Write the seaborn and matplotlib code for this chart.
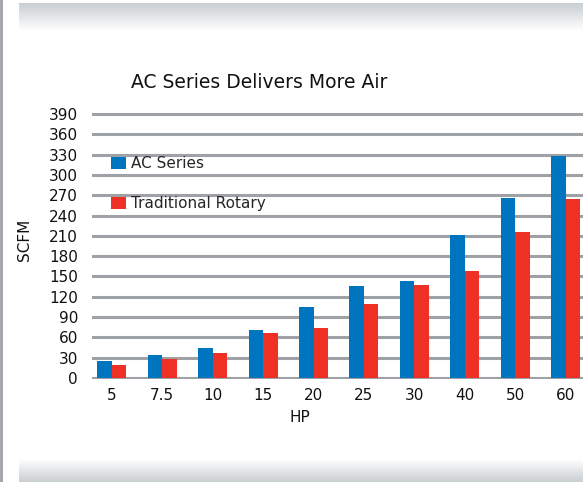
import numpy as np
import pandas as pd
import matplotlib
matplotlib.use("Agg")
import matplotlib.pyplot as plt
from matplotlib.patches import Patch, Rectangle
from matplotlib.colors import LinearSegmentedColormap
import seaborn as sns

# ---- data ----
hp_labels = ["5", "7.5", "10", "15", "20", "25", "30", "40", "50", "60"]
ac_series = [25, 34, 44, 71, 105, 136, 143, 211, 266, 328]
traditional_rotary = [19, 28, 37, 66, 74, 109, 137, 158, 216, 264]
series_names = ["AC Series", "Traditional Rotary"]
y_ticks = list(range(0, 391, 30))

df = pd.DataFrame({
    "HP": hp_labels * 2,
    "SCFM": ac_series + traditional_rotary,
    "Series": [series_names[0]] * len(hp_labels) + [series_names[1]] * len(hp_labels),
})

sns.set_theme(style="white")
plt.rcParams["font.family"] = ["DejaVu Sans"]

W, H = 583, 482
fig = plt.figure(figsize=(W / 100, H / 100), dpi=100)
fig.patch.set_facecolor("white")

# ---- background decoration ----
bg = fig.add_axes([0, 0, 1, 1], zorder=-10)
bg.axis("off")
grad_top = LinearSegmentedColormap.from_list("gt", ["#c9ced2", "#ffffff"])
g = np.linspace(0, 1, 256).reshape(-1, 1)
bg.imshow(g, cmap=grad_top, extent=[19, W, 31, 3], aspect="auto")
bg.imshow(g[::-1], cmap=grad_top, extent=[19, W, 482, 459], aspect="auto")
bg.add_patch(Rectangle((0, 0), 3, H, color="#a4a8ac", lw=0))
bg.set_xlim(0, W)
bg.set_ylim(H, 0)

# ---- chart ----
px_per_unit = 264 / 390
y_lo, y_hi = -2, 392
ax_left, ax_right = 92, 585
y0_px = 378
bottom_px = y0_px + (0 - y_lo) * px_per_unit
top_px = y0_px - (y_hi) * px_per_unit
ax = fig.add_axes([ax_left / W, 1 - bottom_px / H, (ax_right - ax_left) / W, (bottom_px - top_px) / H])
ax.set_facecolor("none")

palette = {series_names[0]: "#0075bf", series_names[1]: "#ee3124"}
sns.barplot(data=df, x="HP", y="SCFM", hue="Series", order=hp_labels,
            hue_order=series_names, palette=palette, width=0.575, gap=0,
            saturation=1, ax=ax, legend=False, linewidth=0)

ax.set_ylim(y_lo, y_hi)
ax.set_xlim(-0.39, 9.38)
ax.set_yticks(y_ticks)
ax.set_yticklabels([str(t) for t in y_ticks])
ax.yaxis.grid(True, color="#9ea2a6", linewidth=2.2)
ax.set_axisbelow(True)
for s in ax.spines.values():
    s.set_visible(False)
fs = 11
ax.tick_params(axis="y", length=0, pad=10, labelsize=fs, labelcolor="#111111")
ax.tick_params(axis="x", length=0, pad=6, labelsize=fs, labelcolor="#111111")
ax.set_xlabel("")
ax.set_ylabel("")

fig.text(259 / W, 1 - 83 / H, "AC Series Delivers More Air", ha="center", va="center",
         fontsize=13.5, color="#111111")
fig.text(25 / W, 1 - 240 / H, "SCFM", ha="center", va="center", rotation=90,
         fontsize=fs, color="#111111")
fig.text(300 / W, 1 - 418 / H, "HP", ha="center", va="center",
         fontsize=fs, color="#111111")

handles = [Patch(facecolor=palette[n], edgecolor="none") for n in series_names]
ax.legend(handles, series_names, loc="upper left", bbox_to_anchor=(111 / W, 1 - 156 / H),
          bbox_transform=fig.transFigure, frameon=False, fontsize=fs,
          borderpad=0, borderaxespad=0, handlelength=0.95, handleheight=0.8,
          handletextpad=0.35, labelspacing=1.65)

fig.savefig("out.png", dpi=100)
